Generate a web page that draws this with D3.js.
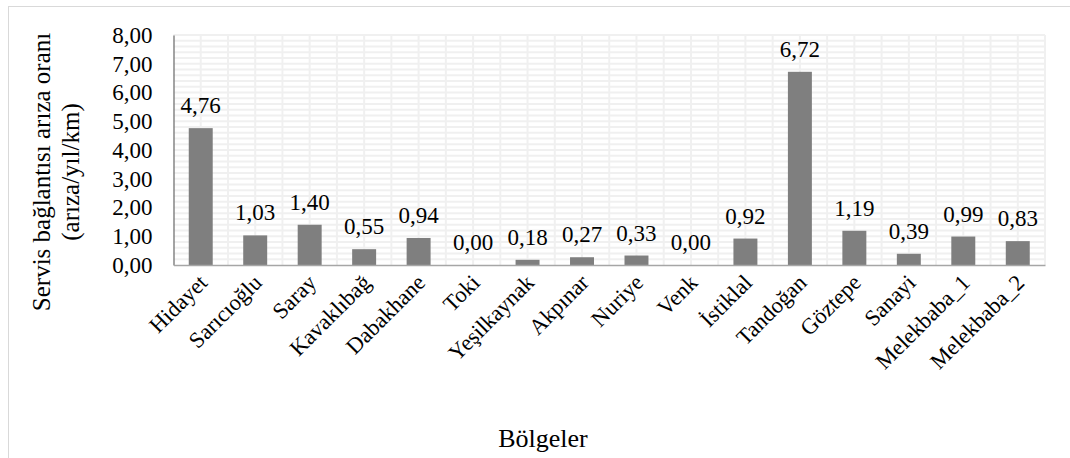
<!DOCTYPE html>
<html>
<head>
<meta charset="utf-8">
<script src="https://cdn.jsdelivr.net/npm/d3@7"></script>
<style>
  body { margin: 0; background: #fff; }
  text { font-family: "Liberation Serif", "Times New Roman", serif; fill: #000; }
</style>
</head>
<body>
<div id="main"></div>
<script>
const regions = ["Hidayet", "Sarıcıoğlu", "Saray", "Kavaklıbağ", "Dabakhane", "Toki", "Yeşilkaynak",
    "Akpınar", "Nuriye", "Venk", "İstiklal", "Tandoğan", "Göztepe", "Sanayi", "Melekbaba_1", "Melekbaba_2"];
const rates = [4.76, 1.03, 1.40, 0.55, 0.94, 0.00, 0.18, 0.27, 0.33, 0.00, 0.92, 6.72, 1.19, 0.39, 0.99, 0.83];
const yTicks = [0, 1, 2, 3, 4, 5, 6, 7, 8];

const W = 1070, H = 458;
const margin = { top: 35, right: 25, bottom: 193, left: 173.5 };
const width = W - margin.left - margin.right;
const height = H - margin.top - margin.bottom;

const tr = d3.formatLocale({ decimal: ",", thousands: ".", grouping: [3], currency: ["", ""] });
const fmt = tr.format(".2f");

const svg = d3.select("#main").append("svg")
    .attr("width", W)
    .attr("height", H);

// cerceve
svg.append("rect")
    .attr("x", 8.5).attr("y", 6.5)
    .attr("width", 1200).attr("height", 600)
    .attr("fill", "none")
    .attr("stroke", "#d9d9d9");

const x = d3.scaleBand()
    .domain(regions)
    .range([0, width])
    .paddingInner(0.56)
    .paddingOuter(0.28);

const y = d3.scaleLinear()
    .domain([0, 8])
    .range([height, 0]);

const g = svg.append("g")
    .attr("transform", `translate(${margin.left},${margin.top})`);

// izgara
const step = width / regions.length;
const minor = d3.range(1, 41).map(i => i * 0.2);
g.append("g").selectAll("line")
    .data(minor)
    .join("line")
    .attr("x1", 0).attr("x2", width)
    .attr("y1", d => y(d)).attr("y2", d => y(d))
    .attr("stroke", "#f0f0f0")
    .attr("stroke-width", 2);

g.append("g").selectAll("line")
    .data(d3.range(1, regions.length * 2 + 1))
    .join("line")
    .attr("x1", d => d * step / 2).attr("x2", d => d * step / 2)
    .attr("y1", 0).attr("y2", height)
    .attr("stroke", "#f0f0f0")
    .attr("stroke-width", 2);

// barlar
g.selectAll("rect.bar")
    .data(regions)
    .join("rect")
    .attr("class", "bar")
    .attr("x", d => x(d))
    .attr("y", (d, i) => y(rates[i]))
    .attr("width", x.bandwidth())
    .attr("height", (d, i) => height - y(rates[i]))
    .attr("fill", "#7f7f7f");

// deger etiketleri
g.selectAll("text.val")
    .data(regions)
    .join("text")
    .attr("class", "val")
    .attr("x", d => x(d) + x.bandwidth() / 2)
    .attr("y", (d, i) => y(rates[i]) - 15)
    .attr("text-anchor", "middle")
    .style("font-size", "23px")
    .text((d, i) => fmt(rates[i]));

// y ekseni
const yAxis = g.append("g")
    .call(d3.axisLeft(y).tickValues(yTicks).tickSize(0).tickPadding(21).tickFormat(fmt));
yAxis.select(".domain").attr("stroke", "#868686").attr("stroke-width", 1.5);
yAxis.selectAll("text")
    .style("font-size", "23px")
    .style("font-family", "Liberation Serif");

// x ekseni
const xAxis = g.append("g")
    .attr("transform", `translate(0,${height})`)
    .call(d3.axisBottom(x).tickSize(0).tickFormat(""));
xAxis.select(".domain").attr("stroke", "#a6a6a6").attr("stroke-width", 1.5);

g.append("g").selectAll("text")
    .data(regions)
    .join("text")
    .attr("transform", d => `translate(${x(d) + x.bandwidth() / 2 + 8},${height + 19}) rotate(-45)`)
    .attr("text-anchor", "end")
    .style("font-size", "22.5px")
    .text(d => d);

// eksen basliklari
svg.append("text")
    .attr("transform", "translate(50,172) rotate(-90)")
    .attr("text-anchor", "middle")
    .style("font-size", "25px")
    .text("Servis bağlantısı arıza oranı");
svg.append("text")
    .attr("transform", "translate(79,172) rotate(-90)")
    .attr("text-anchor", "middle")
    .style("font-size", "25px")
    .text("(arıza/yıl/km)");

svg.append("text")
    .attr("x", 543)
    .attr("y", 447)
    .attr("text-anchor", "middle")
    .style("font-size", "26px")
    .text("Bölgeler");
</script>
</body>
</html>
